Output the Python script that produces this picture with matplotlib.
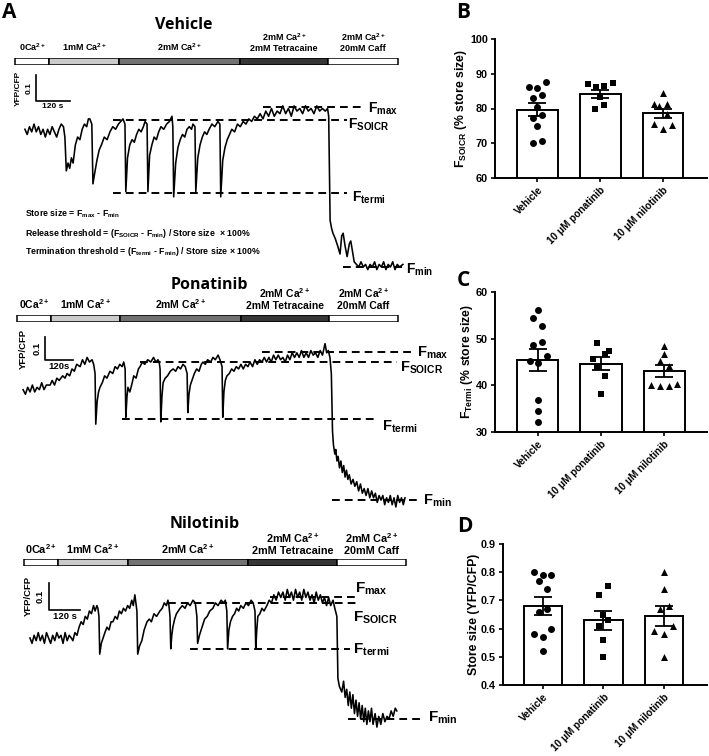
import numpy as np
import matplotlib
matplotlib.use('Agg')
import matplotlib.pyplot as plt

W, H = 709, 756
plt.rcParams['font.family'] = ['Liberation Sans', 'DejaVu Sans']
plt.rcParams['font.weight'] = 'bold'
plt.rcParams['mathtext.fontset'] = 'custom'
plt.rcParams['mathtext.rm'] = 'Liberation Sans:bold'
plt.rcParams['mathtext.bf'] = 'Liberation Sans:bold'
plt.rcParams['mathtext.it'] = 'Liberation Sans:bold'
plt.rcParams['mathtext.default'] = 'bf'
HEAD = ['Open Sans', 'DejaVu Sans']
PT = 0.72  # points per pixel at dpi 100

# ---------------- DATA: panel A traces (time in s, YFP/CFP ratio) ----------------
vehicle_trace = [
    (0, 1.53), (8, 1.51), (16, 1.54), (24, 1.52), (32, 1.55), (40, 1.52), (48, 1.54), (56, 1.51),
    (64, 1.53), (72, 1.50), (80, 1.53), (88, 1.51), (96, 1.54), (104, 1.52), (112, 1.50), (120, 1.53),
    (128, 1.55), (136, 1.54),
    (141, 1.50), (146, 1.37), (152, 1.40), (158, 1.38), (164, 1.42), (170, 1.40), (178, 1.47), (186, 1.50),
    (194, 1.49), (202, 1.53), (210, 1.55), (218, 1.54), (224, 1.57), (229, 1.57),
    (236, 1.55), (240, 1.32), (246, 1.36), (254, 1.41), (262, 1.45), (270, 1.47), (280, 1.50), (290, 1.49),
    (300, 1.52), (310, 1.54), (320, 1.53), (330, 1.55), (338, 1.56), (346, 1.57),
    (353, 1.55), (356, 1.29), (362, 1.42), (370, 1.47), (378, 1.49), (386, 1.48), (394, 1.51), (402, 1.53),
    (410, 1.52), (418, 1.54), (424, 1.56),
    (431, 1.55), (434, 1.29), (440, 1.43), (448, 1.47), (456, 1.50), (464, 1.49), (472, 1.52), (480, 1.54),
    (490, 1.53), (500, 1.55), (510, 1.56), (519, 1.58),
    (522, 1.54), (525, 1.27), (532, 1.40), (540, 1.46), (548, 1.49), (556, 1.51), (564, 1.50), (572, 1.53),
    (580, 1.54), (588, 1.53), (593, 1.55),
    (600, 1.54), (603, 1.29), (610, 1.42), (618, 1.47), (626, 1.50), (634, 1.52), (642, 1.51), (650, 1.53),
    (660, 1.55), (670, 1.54), (681, 1.56),
    (688, 1.55), (691, 1.27), (698, 1.41), (706, 1.46), (714, 1.49), (722, 1.51), (730, 1.53), (740, 1.52),
    (750, 1.55), (760, 1.54), (770, 1.56), (780, 1.55), (790, 1.57), (800, 1.56), (810, 1.58), (820, 1.57),
    (830, 1.59), (840, 1.57), (850, 1.60), (860, 1.58), (870, 1.61), (880, 1.58), (890, 1.60), (900, 1.59),
    (910, 1.62), (920, 1.59), (930, 1.61), (940, 1.58), (950, 1.62), (960, 1.60), (970, 1.61), (980, 1.59),
    (990, 1.62), (1000, 1.60), (1010, 1.61), (1020, 1.59), (1030, 1.62), (1040, 1.60), (1050, 1.61),
    (1060, 1.60), (1068, 1.61),
    (1072, 1.58), (1077, 1.18), (1082, 1.15), (1087, 1.13), (1095, 1.11), (1104, 1.08), (1112, 1.05),
    (1118, 1.12), (1123, 1.13), (1130, 1.08), (1137, 1.04), (1145, 1.09), (1150, 1.10), (1156, 1.06),
    (1162, 1.02), (1170, 1.01), (1178, 1.00), (1186, 1.02), (1194, 1.00), (1202, 1.01), (1210, 0.99),
    (1218, 1.01), (1226, 1.00), (1234, 1.02), (1242, 0.99), (1250, 1.01), (1258, 1.00), (1266, 1.02),
    (1274, 0.99), (1282, 1.01), (1290, 1.00), (1298, 1.02), (1306, 0.99), (1314, 1.01), (1322, 1.00),
    (1334, 1.01),
]

ponatinib_trace = [
    (0, 1.48), (10, 1.46), (20, 1.49), (30, 1.47), (40, 1.50), (50, 1.47), (60, 1.49), (70, 1.48),
    (80, 1.51), (90, 1.48), (100, 1.50), (116, 1.50), (125, 1.52), (135, 1.50), (145, 1.53), (155, 1.52),
    (170, 1.54), (180, 1.53), (189, 1.55), (200, 1.54), (210, 1.57), (220, 1.56), (230, 1.59), (245, 1.58),
    (255, 1.61), (265, 1.59), (275, 1.62), (285, 1.60), (296, 1.61), (303, 1.59),
    (309, 1.55), (312, 1.33), (318, 1.43), (324, 1.47), (330, 1.49), (340, 1.51), (350, 1.54), (360, 1.53),
    (373, 1.56), (385, 1.55), (395, 1.58), (405, 1.57), (415, 1.59), (425, 1.58), (432, 1.60),
    (438, 1.57), (441, 1.36), (446, 1.45), (450, 1.49), (458, 1.47), (466, 1.50), (475, 1.54), (485, 1.53),
    (495, 1.57), (502, 1.58), (512, 1.60), (522, 1.59), (535, 1.61), (548, 1.60), (560, 1.62), (570, 1.60),
    (579, 1.61), (584, 1.60),
    (588, 1.57), (591, 1.34), (596, 1.45), (601, 1.51), (610, 1.53), (620, 1.54), (632, 1.56), (644, 1.57),
    (655, 1.56), (665, 1.58), (676, 1.57), (686, 1.59), (696, 1.58),
    (704, 1.55), (707, 1.38), (712, 1.46), (718, 1.50), (725, 1.52), (735, 1.55), (745, 1.57), (755, 1.56),
    (765, 1.59), (772, 1.60), (782, 1.59), (792, 1.61), (805, 1.60), (815, 1.62), (825, 1.61), (837, 1.63),
    (845, 1.61),
    (854, 1.58), (857, 1.36), (862, 1.47), (868, 1.52), (875, 1.54), (885, 1.55), (895, 1.57), (905, 1.56),
    (915, 1.58), (925, 1.57), (935, 1.59), (945, 1.57), (955, 1.59), (965, 1.58), (974, 1.60), (985, 1.58),
    (995, 1.61), (1005, 1.59), (1015, 1.61), (1025, 1.60), (1035, 1.62), (1045, 1.60), (1055, 1.62),
    (1065, 1.60), (1075, 1.63), (1085, 1.61), (1095, 1.63), (1105, 1.61), (1115, 1.62), (1125, 1.60),
    (1135, 1.63), (1145, 1.61), (1155, 1.64), (1165, 1.62), (1175, 1.64), (1185, 1.62), (1195, 1.65),
    (1205, 1.62), (1215, 1.64), (1225, 1.62), (1235, 1.65), (1245, 1.63), (1255, 1.64), (1265, 1.62),
    (1275, 1.65), (1285, 1.63), (1296, 1.68), (1303, 1.64), (1310, 1.65), (1317, 1.62),
    (1323, 1.55), (1328, 1.30), (1332, 1.24), (1338, 1.20), (1342, 1.22), (1347, 1.17), (1352, 1.19),
    (1358, 1.14), (1364, 1.17), (1370, 1.12), (1376, 1.15), (1382, 1.10), (1388, 1.13), (1394, 1.09),
    (1400, 1.11), (1408, 1.07), (1416, 1.09), (1424, 1.06), (1432, 1.08), (1440, 1.04), (1448, 1.07),
    (1456, 1.03), (1464, 1.05), (1472, 1.02), (1480, 1.05), (1488, 1.01), (1496, 1.04), (1504, 1.01),
    (1512, 1.03), (1520, 0.99), (1528, 1.02), (1536, 1.00), (1544, 1.02), (1552, 0.98), (1560, 1.01),
    (1568, 0.99), (1576, 1.02), (1584, 0.98), (1592, 1.01), (1600, 0.97), (1608, 1.02), (1616, 0.99),
    (1624, 1.01), (1632, 0.98), (1639, 1.01),
]

nilotinib_trace = [
    (0, 1.30), (8, 1.28), (16, 1.31), (24, 1.29), (32, 1.32), (40, 1.29), (48, 1.31), (56, 1.28),
    (64, 1.32), (72, 1.30), (80, 1.28), (88, 1.31), (96, 1.29), (104, 1.32), (112, 1.30), (120, 1.31),
    (128, 1.28), (136, 1.32), (144, 1.29), (152, 1.31), (160, 1.30), (166, 1.29), (174, 1.32), (182, 1.31),
    (190, 1.34), (198, 1.36), (206, 1.35), (214, 1.38), (222, 1.37), (230, 1.40), (238, 1.39), (246, 1.42),
    (252, 1.40), (259, 1.42), (263, 1.41),
    (267, 1.38), (270, 1.24), (276, 1.28), (283, 1.30), (290, 1.32), (298, 1.34), (306, 1.33), (314, 1.36),
    (321, 1.36), (330, 1.38), (338, 1.37), (346, 1.40), (354, 1.39), (362, 1.41), (370, 1.40), (378, 1.42),
    (386, 1.41), (394, 1.44), (400, 1.42), (406, 1.46), (410, 1.43),
    (414, 1.40), (417, 1.24), (424, 1.27), (433, 1.29), (442, 1.33), (453, 1.36), (462, 1.37), (470, 1.36),
    (480, 1.39), (490, 1.38), (503, 1.40), (512, 1.41), (520, 1.43), (528, 1.42), (534, 1.44), (538, 1.42),
    (542, 1.38), (545, 1.26), (549, 1.31), (553, 1.34), (560, 1.37), (567, 1.39), (574, 1.40), (581, 1.41),
    (590, 1.42), (600, 1.41), (610, 1.43), (620, 1.42), (631, 1.44), (640, 1.43),
    (646, 1.38), (649, 1.28), (656, 1.31), (666, 1.34), (676, 1.37), (686, 1.38), (696, 1.40), (708, 1.41),
    (718, 1.43), (728, 1.42), (740, 1.44), (750, 1.43), (756, 1.44),
    (762, 1.40), (765, 1.26), (770, 1.33), (776, 1.36), (784, 1.38), (792, 1.39), (800, 1.41), (808, 1.40),
    (816, 1.42), (826, 1.41), (836, 1.43), (846, 1.42), (856, 1.44), (864, 1.43),
    (871, 1.40), (874, 1.26), (878, 1.33), (882, 1.38), (890, 1.39), (898, 1.41), (906, 1.40), (917, 1.42),
    (926, 1.44), (935, 1.43), (944, 1.46), (953, 1.44), (962, 1.47), (971, 1.45), (979, 1.47), (988, 1.44),
    (996, 1.48), (1004, 1.45), (1012, 1.47), (1020, 1.44), (1028, 1.48), (1036, 1.45), (1044, 1.47),
    (1052, 1.44), (1060, 1.48), (1068, 1.45), (1076, 1.47), (1084, 1.44), (1092, 1.46), (1100, 1.43),
    (1108, 1.47), (1116, 1.44), (1124, 1.46), (1132, 1.43), (1140, 1.45), (1148, 1.42), (1156, 1.45),
    (1164, 1.42), (1173, 1.44), (1180, 1.41),
    (1188, 1.38), (1192, 1.15), (1198, 1.12), (1207, 1.10), (1214, 1.14), (1220, 1.08), (1226, 1.11),
    (1232, 1.05), (1238, 1.10), (1244, 1.04), (1250, 1.09), (1256, 1.02), (1262, 1.07), (1268, 1.01),
    (1274, 1.06), (1280, 1.00), (1286, 1.05), (1292, 0.99), (1298, 1.04), (1304, 0.98), (1310, 1.03),
    (1316, 0.99), (1322, 1.04), (1328, 0.98), (1336, 1.02), (1343, 0.97), (1350, 1.01), (1358, 0.98),
    (1366, 1.02), (1374, 0.99), (1382, 1.01), (1390, 1.00), (1398, 1.03), (1406, 1.01), (1414, 1.04),
    (1420, 1.03),
]

# protocol segment edges (s) for each recording
protocol_names = ['0Ca$^{2+}$', '1mM Ca$^{2+}$', '2mM Ca$^{2+}$',
                  '2mM Ca$^{2+}$\n2mM Tetracaine', '2mM Ca$^{2+}$\n20mM Caff']
protocol_colors = ['white', '#cbcbcb', '#727272', '#363636', 'white']
vehicle_edges = [-35, 85, 332, 759, 1070, 1317]
ponatinib_edges = [-26, 120, 416, 935, 1313, 1609]
nilotinib_edges = [-23, 108, 379, 844, 1188, 1455]

# threshold levels: (value, t_start, t_end)
vehicle_levels = {'max': (1.615, 840, 1193), 'SOICR': (1.565, 311, 1137),
                  'termi': (1.285, 311, 1137), 'min': (1.00, 1123, 1334)}
ponatinib_levels = {'max': (1.643, 1025, 1673), 'SOICR': (1.60, 502, 1604),
                    'termi': (1.352, 425, 1523), 'min': (1.00, 1326, 1703)}
nilotinib_levels = {'max': (1.452, 929, 1269), 'SOICR': (1.43, 534, 1269),
                    'termi': (1.259, 619, 1238), 'min': (1.00, 1231, 1521)}

# ---------------- DATA: panels B-D ----------------
groups = ['Vehicle', '10 \u03bcM ponatinib', '10 \u03bcM nilotinib']

soicr_vals = [[86.2, 85.9, 87.6, 82.9, 83.8, 80.3, 77.3, 78.0, 74.9, 70.1, 70.7],
              [87.0, 86.2, 86.6, 87.3, 83.2, 79.9, 80.9],
              [84.5, 81.3, 80.6, 81.4, 78.4, 75.5, 75.3, 74.2]]
soicr_dx = [[-0.14, 0.0, 0.13, -0.07, 0.07, 0.0, -0.07, 0.07, 0.0, -0.07, 0.07],
            [-0.20, -0.06, 0.06, 0.20, 0.0, -0.08, 0.06],
            [0.0, -0.14, -0.06, 0.07, 0.06, -0.14, 0.14, 0.0]]
soicr_mean = [79.6, 84.1, 78.6]
soicr_sem = [1.9, 1.2, 1.3]

termi_vals = [[56.2, 54.4, 52.7, 48.6, 49.3, 45.3, 46.2, 44.8, 36.9, 34.4, 32.1],
              [49.1, 47.4, 46.7, 45.6, 43.9, 42.1, 38.2],
              [48.5, 46.7, 45.3, 44.2, 40.1, 39.8, 39.8, 40.3]]
termi_dx = [[0.0, -0.07, 0.07, -0.07, 0.07, -0.13, 0.14, 0.0, 0.0, 0.0, 0.0],
            [-0.07, 0.13, 0.07, -0.13, -0.07, 0.06, 0.0],
            [0.0, 0.0, -0.06, 0.08, -0.20, -0.06, 0.08, 0.21]]
termi_mean = [45.4, 44.6, 43.0]
termi_sem = [2.4, 1.4, 1.3]

size_vals = [[0.80, 0.79, 0.79, 0.77, 0.74, 0.66, 0.67, 0.58, 0.60, 0.57, 0.52],
             [0.75, 0.72, 0.65, 0.63, 0.61, 0.56, 0.50],
             [0.80, 0.74, 0.68, 0.67, 0.61, 0.59, 0.58, 0.50]]
size_dx = [[-0.14, 0.0, 0.14, -0.07, 0.07, -0.07, 0.07, -0.14, 0.14, 0.0, 0.0],
           [0.07, -0.07, 0.0, 0.07, -0.07, 0.0, 0.0],
           [0.0, 0.0, 0.08, -0.07, 0.15, -0.16, 0.0, 0.0]]
size_mean = [0.68, 0.63, 0.645]
size_sem = [0.032, 0.034, 0.035]

markers = ['o', 's', '^']


def box(x0, y0, x1, y1):
    return [x0 / W, 1 - y1 / H, (x1 - x0) / W, (y1 - y0) / H]


fig = plt.figure(figsize=(W / 100, H / 100), dpi=100)


def draw_trace(title, trace, edges, levels, lay):
    # protocol bar
    pax = fig.add_axes(box(*lay['bar_box']))
    pax.set_xlim(lay['xlim'])
    pax.set_ylim(0, 1)
    pax.axis('off')
    for i in range(5):
        pax.barh(0.5, edges[i + 1] - edges[i], left=edges[i], height=1.0,
                 color=protocol_colors[i], edgecolor='black', linewidth=1.1)
        mid = 0.5 * (edges[i] + edges[i + 1])
        pax.annotate(protocol_names[i], (mid, 1), xytext=(0, lay['lab_off'] * PT),
                     textcoords='offset points', ha='center', va='bottom',
                     fontsize=lay['lab_fs'], linespacing=1.15, fontweight='bold')
    pax.text(lay['title_x'], lay['title_dy'], title, transform=pax.transData,
             ha='center', va='center', fontsize=11.5, family=HEAD, fontweight='bold')

    ax = fig.add_axes(box(*lay['trace_box']))
    ax.set_xlim(lay['xlim'])
    ax.set_ylim(lay['ylim'])
    ax.axis('off')
    tr = np.array(trace)
    ax.plot(tr[:, 0], tr[:, 1], color='black', lw=1.15)
    for key, (v, t0, t1) in levels.items():
        ax.plot([t0, t1], [v, v], color='black', lw=1.4, dashes=(4, 2.6))
        lt, lv = lay['labels'][key]
        ax.text(lt, lv, r'$F_{%s}$' % key, ha='left', va='center', fontsize=lay['f_fs'])

    # scale bar
    st, sv = lay['scale']
    ax.plot([st, st, st + 120], [sv + 0.1, sv, sv], color='black', lw=1.2)
    ax.annotate('YFP/CFP', (st, sv + 0.05), xytext=(-lay['yfp_off'] * PT, 0),
                textcoords='offset points', rotation=90, ha='center', va='center',
                fontsize=lay['sc_fs'], fontweight='bold')
    ax.annotate('0.1', (st, sv + 0.05), xytext=(-lay['one_off'] * PT, 0),
                textcoords='offset points', rotation=90, ha='center', va='center',
                fontsize=lay['sc_fs'], fontweight='bold')
    ax.annotate(lay['s_text'], (st + 60, sv), xytext=(0, -2 * PT),
                textcoords='offset points', ha='center', va='top', fontsize=lay['sc_fs'],
                fontweight='bold')
    return ax


vehicle_layout = dict(bar_box=(0, 58, 480, 65), trace_box=(0, 30, 480, 280),
                      xlim=(-88, 1606), ylim=(0.95, 1.912), lab_off=5, lab_fs=6.5,
                      title_x=560, title_dy=5.7, f_fs=10,
                      labels={'max': (1210, 1.607), 'SOICR': (1140, 1.548),
                              'termi': (1155, 1.268), 'min': (1345, 0.99)},
                      scale=(39, 1.638), yfp_off=18, one_off=7, sc_fs=6, s_text='120 s')
ponatinib_layout = dict(bar_box=(0, 315, 480, 322), trace_box=(0, 290, 480, 510),
                        xlim=(-99, 1961), ylim=(0.957, 1.913), lab_off=4, lab_fs=7.5,
                        title_x=800, title_dy=5.3, f_fs=10.5,
                        labels={'max': (1690, 1.64), 'SOICR': (1617, 1.574),
                                'termi': (1540, 1.317), 'min': (1716, 0.995)},
                        scale=(94, 1.609), yfp_off=22, one_off=8, sc_fs=6.8, s_text='120s')
nilotinib_layout = dict(bar_box=(0, 559, 480, 566), trace_box=(0, 530, 480, 756),
                        xlim=(-116, 1742), ylim=(0.863, 1.70), lab_off=3, lab_fs=7.8,
                        title_x=677, title_dy=6.0, f_fs=11,
                        labels={'max': (1258, 1.482), 'SOICR': (1250, 1.375),
                                'termi': (1250, 1.256), 'min': (1540, 1.003)},
                        scale=(74, 1.404), yfp_off=21, one_off=9, sc_fs=6.8, s_text='120 s')

draw_trace('Vehicle', vehicle_trace, vehicle_edges, vehicle_levels, vehicle_layout)
draw_trace('Ponatinib', ponatinib_trace, ponatinib_edges, ponatinib_levels, ponatinib_layout)
draw_trace('Nilotinib', nilotinib_trace, nilotinib_edges, nilotinib_levels, nilotinib_layout)

# formulas under the vehicle trace
formulas = [r'Store size = F$_{max}$ - F$_{min}$',
            r'Release threshold = (F$_{SOICR}$ - F$_{min}$) / Store size  $\times$ 100%',
            r'Termination threshold = (F$_{termi}$ - F$_{min}$) / Store size $\times$ 100%']
for i, s in enumerate(formulas):
    fig.text(25 / W, 1 - (214 + 19 * i) / H, s, ha='left', va='center', fontsize=6.3,
             fontweight='bold')


def draw_bars(rect, vals, dx, mean, sem, ylim, yticks, ylabel, fmt, width, xlim):
    ax = fig.add_axes(box(*rect))
    x = np.arange(3)
    ax.bar(x, mean, width=width, color='white', edgecolor='black', linewidth=1.4, zorder=1)
    ax.errorbar(x, mean, yerr=sem, fmt='none', ecolor='black', elinewidth=1.3,
                capsize=6.5, capthick=1.3, zorder=3)
    for i in range(3):
        ax.scatter(i + np.array(dx[i]), vals[i], marker=markers[i], s=25,
                   color='black', zorder=4, linewidths=0)
    ax.set_xlim(xlim)
    ax.set_ylim(ylim)
    ax.set_yticks(yticks)
    ax.set_yticklabels([fmt % t for t in yticks], fontsize=7.8, fontweight='bold')
    ax.set_xticks(x)
    ax.set_xticklabels(groups, rotation=45, ha='right', rotation_mode='anchor',
                       fontsize=7.2, fontweight='bold')
    ax.tick_params(length=3, width=1.2, pad=2)
    for s in ['top', 'right']:
        ax.spines[s].set_visible(False)
    for s in ['left', 'bottom']:
        ax.spines[s].set_linewidth(1.4)
    ax.set_ylabel(ylabel, fontsize=8.8, labelpad=0.5, fontweight='bold')
    return ax


draw_bars((495, 39, 707, 178), soicr_vals, soicr_dx, soicr_mean, soicr_sem,
          (60, 100), [60, 70, 80, 90, 100], r'F$_{SOICR}$ (% store size)', '%d', 0.65, (-0.675, 2.7))
draw_bars((495, 292, 707, 432), termi_vals, termi_dx, termi_mean, termi_sem,
          (30, 60), [30, 40, 50, 60], r'F$_{Termi}$ (% store size)', '%d', 0.65, (-0.68, 2.68))
draw_bars((503, 544, 707, 685), size_vals, size_dx, size_mean, size_sem,
          (0.4, 0.9), [0.4, 0.5, 0.6, 0.7, 0.8, 0.9], 'Store size (YFP/CFP)', '%.1f', 0.63, (-0.66, 2.71))

for letter, (lx, ly) in zip('ABCD', [(9, 13), (463, 13), (463, 281), (465, 526)]):
    fig.text(lx / W, 1 - ly / H, letter, ha='center', va='center', fontsize=15,
             family=HEAD, fontweight='bold')

fig.savefig('out.png', dpi=100)
